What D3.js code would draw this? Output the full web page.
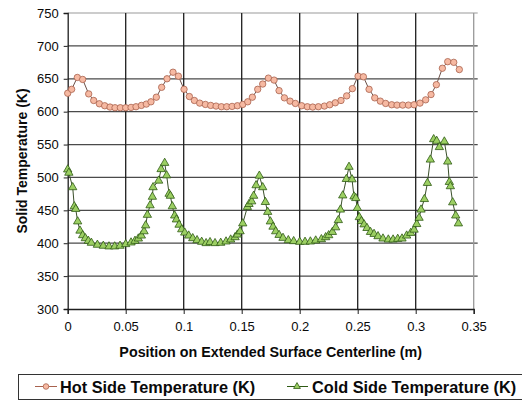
<!DOCTYPE html>
<html>
  <head>
    <title>Solid Temperature</title>
    <script src="https://d3js.org/d3.v7.min.js"></script>
    <style>
      body { margin: 0; background: #fff; }
      text { font-family: "Liberation Sans", Arial, sans-serif; }
    </style>
  </head>
  <body>
    <svg width="522" height="401"></svg>
    <script>
      // hot side (circles)
      const hotX = [0, 0.0034, 0.0083, 0.0129, 0.0181, 0.0224, 0.0273, 0.0319, 0.0365, 0.0408,
        0.0454, 0.05, 0.0546, 0.0589, 0.0635, 0.0678, 0.0718, 0.0764, 0.081, 0.0856,
        0.0908, 0.0954, 0.1003, 0.1049, 0.1092, 0.1138, 0.1187, 0.1233, 0.1279, 0.1325,
        0.1371, 0.1417, 0.1463, 0.1509, 0.1552, 0.1592, 0.1638, 0.1681, 0.173, 0.1779,
        0.1822, 0.1868, 0.1917, 0.1963, 0.2017, 0.2066, 0.2112, 0.2161, 0.2213, 0.2259,
        0.2307, 0.2356, 0.2405, 0.2454, 0.2503, 0.2549, 0.2598, 0.2647, 0.2695, 0.2741,
        0.2793, 0.2839, 0.2888, 0.2937, 0.2986, 0.3037, 0.3086, 0.3132, 0.3178, 0.323,
        0.3276, 0.3328, 0.3376];
      const hotY = [628, 634, 652, 649, 627, 617, 612, 609, 607, 606,
        606, 606, 606.5, 607.5, 609.5, 611.5, 615, 622, 637, 650,
        660, 654, 634, 623, 617, 613, 611, 609.5, 608.5, 607.5,
        607.5, 608, 609, 611, 615, 622, 634, 642, 651, 648,
        632, 621, 616, 612.5, 609, 607.5, 607, 607.5, 608.5, 610.5,
        613.5, 617, 624, 635, 654, 653, 634, 621, 616, 612.5,
        610.5, 610, 610, 610, 610.5, 613, 618, 626, 641, 666,
        676, 675, 664];

      // cold side (triangles)
      const coldX = [0, 0.001, 0.0043, 0.0057, 0.0069, 0.0086, 0.0106, 0.0129, 0.0152, 0.0178,
        0.0204, 0.0256, 0.0307, 0.0356, 0.0405, 0.0451, 0.05, 0.0546, 0.058, 0.0609,
        0.0635, 0.0658, 0.0672, 0.0687, 0.071, 0.073, 0.0736, 0.0784, 0.0805, 0.0836,
        0.0853, 0.0874, 0.0885, 0.0902, 0.0922, 0.0937, 0.096, 0.0983, 0.1009, 0.1043,
        0.1078, 0.1115, 0.1155, 0.1193, 0.1227, 0.127, 0.1319, 0.1365, 0.1405, 0.1443,
        0.1463, 0.1486, 0.1509, 0.1549, 0.1563, 0.1586, 0.1603, 0.1624, 0.1652, 0.1681,
        0.1704, 0.1724, 0.1747, 0.177, 0.1793, 0.1822, 0.1856, 0.1902, 0.1948, 0.2,
        0.2046, 0.2092, 0.2138, 0.2187, 0.2224, 0.225, 0.2282, 0.231, 0.2333, 0.2351,
        0.2371, 0.2402, 0.2425, 0.2451, 0.2468, 0.2483, 0.2497, 0.2514, 0.2532, 0.2555,
        0.258, 0.261, 0.2641, 0.2675, 0.2718, 0.2764, 0.2805, 0.2845, 0.2882, 0.2922,
        0.2957, 0.2986, 0.3009, 0.3029, 0.3046, 0.3075, 0.3101, 0.3126, 0.3155, 0.3181,
        0.3204, 0.3247, 0.3276, 0.329, 0.3299, 0.3319, 0.3345, 0.3368];
      const coldY = [512, 507, 485, 456, 452, 433, 419, 412, 407.5, 403.5,
        400.5, 397.5, 396, 395, 395, 396, 398.5, 401, 403.5, 407,
        411.5, 418, 427, 443, 457.5, 470.5, 485, 495, 512.5, 522,
        503, 475, 472, 456, 442, 436, 428, 421, 416, 411.5,
        407.5, 404.5, 402, 400, 401.5, 400, 400.5, 402.5, 405.5, 409,
        413, 418, 430, 455, 459.5, 463.5, 472, 488, 502.5, 485,
        462.5, 447.5, 433, 425, 418, 412.5, 408, 404.5, 403, 402,
        402, 402.5, 404, 406, 409, 412, 417, 424, 435, 451,
        472.5, 497.5, 516, 497, 471, 468.5, 453.5, 439.5, 433.5, 428.5,
        423, 417, 414, 410.5, 407, 405.5, 405.5, 406.5, 407, 411.5,
        415.5, 420.5, 429, 438.5, 451, 467, 491.5, 527, 558, 555.5,
        546, 554.5, 524, 493, 486.5, 462, 442, 430];

      const xTicks = [0, 0.05, 0.1, 0.15, 0.2, 0.25, 0.3, 0.35];
      const yTicks = [300, 350, 400, 450, 500, 550, 600, 650, 700, 750];
      const seriesNames = ["Hot Side Temperature (K)", "Cold Side Temperature (K)"];

      const hotData = hotX.map((x, i) => ({x: x, y: hotY[i]}));
      const coldData = coldX.map((x, i) => ({x: x, y: coldY[i]}));

      const svg = d3.select("svg");

      const plotLeft = 67.7, plotRight = 473.7, plotTop = 13, plotBottom = 309;

      const x = d3.scaleLinear().domain([0, 0.35]).range([plotLeft, plotRight]);
      const y = d3.scaleLinear().domain([300, 750]).range([plotBottom, plotTop]);

      // horizontal gridlines
      svg.append("g")
        .selectAll("line")
        .data(yTicks.slice(1))
        .join("line")
          .attr("x1", plotLeft).attr("x2", plotRight + 4)
          .attr("y1", d => y(d)).attr("y2", d => y(d))
          .attr("stroke", d => d === 750 ? "#bbb" : "#4a4a4a")
          .attr("stroke-width", 1.3);

      // vertical gridlines
      svg.append("g")
        .selectAll("line")
        .data(xTicks.slice(1))
        .join("line")
          .attr("x1", d => x(d)).attr("x2", d => x(d))
          .attr("y1", plotTop).attr("y2", plotBottom)
          .attr("stroke", d => d === 0.35 ? "#999" : "#1e1e1e")
          .attr("stroke-width", 1.3);

      const yAxis = svg.append("g")
        .attr("transform", `translate(${plotLeft},0)`)
        .call(d3.axisLeft(y).tickValues(yTicks).tickSize(4).tickPadding(5).tickFormat(d3.format("d")));

      const xAxis = svg.append("g")
        .attr("transform", `translate(0,${plotBottom})`)
        .call(d3.axisBottom(x).tickValues(xTicks).tickSize(5).tickPadding(8).tickFormat(d => String(+d.toFixed(2))));

      [yAxis, xAxis].forEach(a => {
        a.select(".domain").attr("stroke", "#1e1e1e").attr("stroke-width", 1.3);
        a.selectAll(".tick line").attr("stroke", "#1e1e1e");
        a.selectAll("text").attr("font-size", 13).attr("fill", "#0a0a0a")
          .style("font-family", '"Liberation Sans", Arial, sans-serif');
      });

      // axis titles
      svg.append("text")
        .attr("x", (plotLeft + plotRight) / 2).attr("y", 357)
        .attr("text-anchor", "middle")
        .attr("font-size", 14.3).attr("font-weight", "bold").attr("fill", "#0a0a0a")
        .text("Position on Extended Surface Centerline (m)");

      svg.append("text")
        .attr("transform", `translate(27,${(plotTop + plotBottom) / 2}) rotate(-90)`)
        .attr("text-anchor", "middle")
        .attr("font-size", 14).attr("font-weight", "bold").attr("fill", "#0a0a0a")
        .text("Solid Temperature (K)");

      // lines
      const line = d3.line().x(d => x(d.x)).y(d => y(d.y));

      svg.append("path").datum(hotData)
        .attr("d", line).attr("fill", "none")
        .attr("stroke", "#6b5048").attr("stroke-width", 1);

      svg.append("path").datum(coldData)
        .attr("d", line).attr("fill", "none")
        .attr("stroke", "#3a4f2a").attr("stroke-width", 1);

      const tri = d3.symbol().type(d3.symbolTriangle).size(30);

      svg.append("g").selectAll("circle")
        .data(hotData)
        .join("circle")
          .attr("cx", d => x(d.x)).attr("cy", d => y(d.y))
          .attr("r", 3.2)
          .attr("fill", "#f6b9a2").attr("stroke", "#a8624e").attr("stroke-width", 0.8);

      svg.append("g").selectAll("path")
        .data(coldData)
        .join("path")
          .attr("transform", d => `translate(${x(d.x)},${y(d.y)})`)
          .attr("d", tri)
          .attr("fill", "#9ccf63").attr("stroke", "#2f5a14").attr("stroke-width", 0.8);

      // legend
      const legend = svg.append("g");
      legend.append("rect")
        .attr("x", 18.5).attr("y", 374.5).attr("width", 520).attr("height", 25)
        .attr("fill", "#fff").attr("stroke", "#333").attr("stroke-width", 1);

      const ly = 386.5;
      legend.append("line").attr("x1", 35).attr("x2", 57).attr("y1", ly).attr("y2", ly)
        .attr("stroke", "#a8624e").attr("stroke-width", 1);
      legend.append("circle").attr("cx", 46).attr("cy", ly).attr("r", 2.8)
        .attr("fill", "#f6b9a2").attr("stroke", "#a8624e").attr("stroke-width", 0.8);
      legend.append("text").attr("x", 60).attr("y", ly + 6)
        .attr("font-size", 16.3).attr("font-weight", "bold").attr("fill", "#0a0a0a")
        .text(seriesNames[0]);

      legend.append("line").attr("x1", 287).attr("x2", 308).attr("y1", ly).attr("y2", ly)
        .attr("stroke", "#2f5a14").attr("stroke-width", 1);
      legend.append("path").attr("transform", `translate(297,${ly})`)
        .attr("d", d3.symbol().type(d3.symbolTriangle).size(20))
        .attr("fill", "#9ccf63").attr("stroke", "#2f5a14").attr("stroke-width", 0.8);
      legend.append("text").attr("x", 312).attr("y", ly + 6)
        .attr("font-size", 16.3).attr("font-weight", "bold").attr("fill", "#0a0a0a")
        .text(seriesNames[1]);
    </script>
  </body>
</html>
